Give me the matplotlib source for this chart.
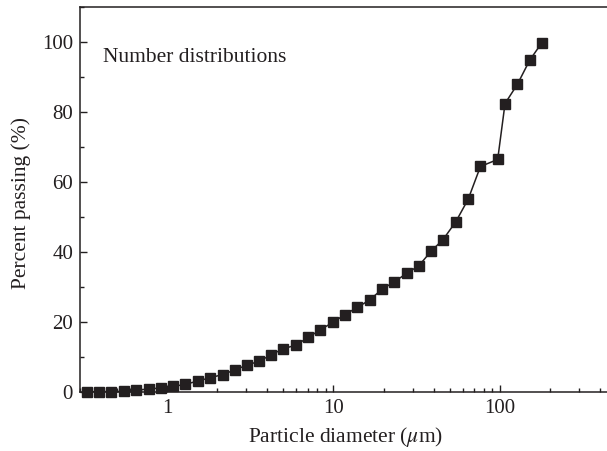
import matplotlib
matplotlib.use("Agg")
import matplotlib.pyplot as plt
from matplotlib.ticker import LogLocator, MultipleLocator, FixedLocator, FixedFormatter

# particle diameter (um) and cumulative number passing (%)
diameter = [0.331, 0.392, 0.461, 0.549, 0.654, 0.776, 0.920, 1.087, 1.29, 1.53,
            1.82, 2.16, 2.55, 3.02, 3.58, 4.24, 5.01, 5.94, 7.04, 8.35,
            9.90, 11.7, 13.9, 16.5, 19.6, 23.2, 27.5, 32.6, 38.7, 45.6,
            54.4, 64.5, 76.5, 97.1, 107.5, 127.6, 151.3, 179.1]
passing = [0.0, 0.02, 0.05, 0.1, 0.4, 0.8, 1.05, 1.5, 2.1, 3.05,
           4.0, 4.9, 6.2, 7.6, 8.7, 10.6, 12.3, 13.3, 15.5, 17.7,
           19.8, 22.0, 24.1, 26.2, 29.3, 31.4, 33.8, 36.0, 40.2, 43.5,
           48.6, 55.0, 64.4, 66.4, 82.4, 87.9, 94.8, 99.8]

x_ticks = [1, 10, 100]
x_ticklabels = ["1", "10", "100"]
y_ticks = [0, 20, 40, 60, 80, 100]

plt.rcParams['font.family'] = ['Liberation Serif', 'DejaVu Serif']
plt.rcParams['mathtext.fontset'] = 'stix'

fig = plt.figure(figsize=(6.07, 4.51), dpi=100)
ax = fig.add_axes([0.1318, 0.1315, 0.868, 0.853])

ink = '#231f20'
ax.plot(diameter, passing, color=ink, lw=1.1, marker='s', markersize=6.8,
        markerfacecolor=ink, markeredgecolor=ink, clip_on=False, zorder=3)

ax.set_xscale('log')
ax.set_xlim(0.3, 440)
ax.set_ylim(0, 110)

ax.xaxis.set_major_locator(FixedLocator(x_ticks))
ax.xaxis.set_major_formatter(FixedFormatter(x_ticklabels))
ax.xaxis.set_minor_locator(LogLocator(base=10, subs=range(2, 10)))
ax.yaxis.set_major_locator(FixedLocator(y_ticks))
ax.yaxis.set_minor_locator(MultipleLocator(10))

ax.tick_params(which='both', direction='in', colors=ink, labelcolor=ink,
               labelsize=15, width=1.0, top=False, right=False)
ax.tick_params(which='major', length=5, pad=5)
ax.tick_params(which='minor', length=3)

ax.spines['right'].set_visible(False)
for s in ['left', 'bottom', 'top']:
    ax.spines[s].set_color(ink)
    ax.spines[s].set_linewidth(1.1)

ax.set_xlabel(r'Particle diameter ($\mu$m)', fontsize=15.5, color=ink)
ax.xaxis.set_label_coords(0.504, -0.087)
ax.set_ylabel('Percent passing (%)', fontsize=15.5, color=ink)
ax.yaxis.set_label_coords(-0.093, 0.49)

ax.text(0.044, 0.87, 'Number distributions', transform=ax.transAxes,
        fontsize=15.5, color=ink, va='center', ha='left')

fig.savefig('out.png', dpi=100)
